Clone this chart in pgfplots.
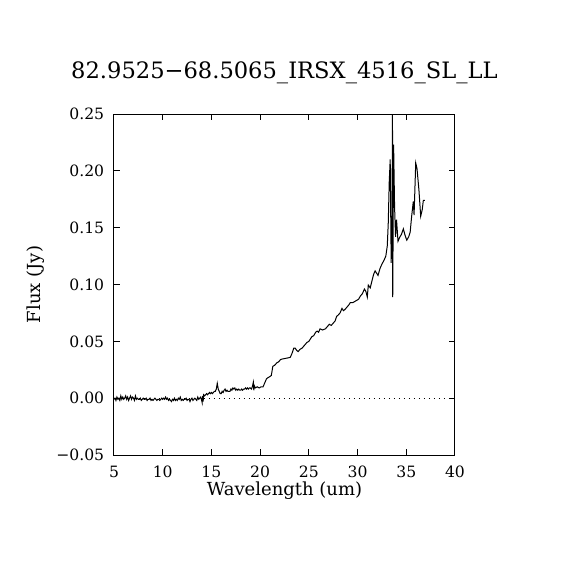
\documentclass[border=0pt]{standalone}
\usepackage{fontspec}
\setmainfont{DejaVu Serif}
\usepackage{pgfplots}
\pgfplotsset{compat=1.18}
\usepackage{pgfplotstable}
\pgfplotstableread{
x y
5.0 -0.001
5.1 0.000
5.2 -0.002
5.3 0.001
5.4 -0.001
5.5 0.000
5.6 -0.002
5.7 0.002
5.8 -0.001
5.9 0.001
6.0 -0.001
6.1 0.000
6.2 0.002
6.3 -0.001
6.4 0.001
6.5 -0.002
6.6 0.000
6.7 0.002
6.8 -0.001
6.9 0.001
7.0 0.000
7.1 -0.002
7.2 0.002
7.3 -0.001
7.4 0.000
7.5 -0.001
7.6 -0.001
7.7 0.000
7.8 -0.002
7.9 -0.001
8.0 0.000
8.1 -0.001
8.2 -0.001
8.3 0.000
8.4 -0.002
8.5 -0.001
8.6 -0.001
8.7 0.000
8.8 -0.002
8.9 -0.001
9.0 -0.002
9.1 -0.001
9.2 0.000
9.3 -0.001
9.4 -0.002
9.5 -0.001
9.6 -0.001
9.7 -0.002
9.8 -0.001
9.9 0.000
10.0 -0.001
10.1 0.000
10.2 -0.001
10.3 0.001
10.4 -0.001
10.5 0.000
10.6 -0.002
10.7 -0.001
10.8 -0.002
10.9 -0.003
11.0 -0.001
11.1 -0.002
11.2 0.000
11.3 -0.002
11.4 -0.001
11.5 -0.002
11.6 0.000
11.7 -0.001
11.8 0.001
11.9 -0.002
12.0 -0.001
12.1 -0.002
12.2 -0.001
12.3 -0.001
12.4 0.000
12.5 -0.002
12.6 -0.001
12.7 -0.001
12.8 -0.003
12.9 -0.001
13.0 0.000
13.1 -0.002
13.2 -0.001
13.3 0.000
13.4 -0.001
13.5 -0.002
13.6 0.001
13.7 -0.001
13.8 0.000
13.9 0.001
14.0 -0.002
14.05 -0.004
14.1 0.002
14.15 -0.003
14.2 0.003
14.3 0.002
14.4 0.003
14.5 0.004
14.6 0.003
14.7 0.004
14.8 0.005
14.9 0.004
15.0 0.005
15.1 0.004
15.2 0.005
15.3 0.006
15.4 0.006
15.5 0.008
15.6 0.013
15.7 0.008
15.8 0.006
15.9 0.004
16.0 0.004
16.1 0.006
16.2 0.005
16.3 0.007
16.4 0.008
16.5 0.006
16.6 0.007
16.7 0.006
16.8 0.006
16.9 0.006
17.0 0.008
17.1 0.007
17.2 0.009
17.3 0.008
17.4 0.009
17.5 0.007
17.6 0.008
17.7 0.007
17.8 0.008
17.9 0.007
18.0 0.007
18.1 0.008
18.2 0.007
18.3 0.008
18.4 0.008
18.5 0.009
18.6 0.008
18.7 0.009
18.8 0.008
18.9 0.009
19.0 0.009
19.1 0.008
19.2 0.010
19.3 0.014
19.35 0.007
19.4 0.011
19.5 0.009
19.7 0.010
19.9 0.009
20.1 0.010
20.3 0.010
20.5 0.014
20.65 0.017
20.8 0.018
21.0 0.019
21.15 0.020
21.3 0.028
21.5 0.029
21.7 0.031
21.9 0.032
22.1 0.034
22.3 0.0345
22.6 0.035
22.9 0.0355
23.1 0.036
23.3 0.040
23.45 0.044
23.6 0.044
23.75 0.042
23.9 0.041
24.1 0.043
24.3 0.044
24.6 0.047
24.8 0.049
25.0 0.050
25.3 0.054
25.5 0.055
25.7 0.058
25.85 0.059
26.0 0.058
26.15 0.061
26.4 0.060
26.7 0.061
26.9 0.063
27.1 0.065
27.3 0.064
27.5 0.066
27.7 0.068
27.85 0.072
28.0 0.073
28.2 0.075
28.4 0.079
28.55 0.077
28.7 0.078
28.9 0.080
29.1 0.082
29.25 0.084
29.5 0.084
29.7 0.085
29.9 0.086
30.1 0.087
30.3 0.090
30.5 0.092
30.7 0.096
30.85 0.094
31.0 0.089
31.1 0.0995
31.3 0.097
31.5 0.104
31.65 0.109
31.8 0.112
31.95 0.110
32.1 0.108
32.3 0.114
32.5 0.118
32.7 0.121
32.9 0.125
33.05 0.134
33.15 0.154
33.25 0.190
33.35 0.210
33.45 0.119
33.55 0.168
33.58 0.270
33.61 0.089
33.70 0.223
33.8 0.168
33.9 0.142
34.0 0.157
34.15 0.138
34.35 0.142
34.5 0.144
34.7 0.149
34.85 0.144
35.05 0.139
35.25 0.142
35.4 0.146
35.55 0.160
35.72 0.173
35.8 0.161
35.97 0.207
36.1 0.202
36.3 0.183
36.48 0.160
36.64 0.166
36.75 0.174
36.92 0.174
}\spec
\begin{document}
\begin{tikzpicture}
\useasboundingbox (-57pt,-57.5pt) rectangle (228pt,227.5pt);
\begin{axis}[
  at={(0,0)}, anchor=south west,
  scale only axis, width=170.5pt, height=170.5pt,
  xmin=5, xmax=40, ymin=-0.05, ymax=0.25,
  xtick={5,10,15,20,25,30,35,40},
  xticklabels={5,10,15,20,25,30,35,40},
  ytick={-0.05,0,0.05,0.1,0.15,0.2,0.25},
  yticklabels={−0.05,0.00,0.05,0.10,0.15,0.20,0.25},
  minor tick num=0,
  tick align=inside, major tick length=3pt,
  xtick pos=both, ytick pos=both,
  axis line style={line width=0.5pt},
  every tick/.style={black, line width=0.5pt},
  ticklabel style={font=\fontsize{7.8}{9}\selectfont},
  yticklabel style={xshift=-1.4pt},
  xticklabel style={yshift=-2pt},
  title={82.9525−68.5065\_IRSX\_4516\_SL\_LL},
  title style={at={([yshift=12pt]axis description cs:0.5,1)}, anchor=base, font=\fontsize{11.3}{13}\selectfont},
  xlabel={Wavelength (um)},
  xlabel style={at={([yshift=-20pt]axis description cs:0.5,0)}, anchor=base, font=\fontsize{9}{11}\selectfont},
  ylabel={Flux (Jy)},
  ylabel style={at={([xshift=-36.5pt]axis description cs:0,0.5)}, anchor=base, font=\fontsize{9}{11}\selectfont},
]
\addplot[black, line width=0.5pt, dotted, forget plot] coordinates {(5,0) (40,0)};
\addplot[black, line width=0.5pt, mark=none] table[x=x, y=y] {\spec};
\end{axis}
\end{tikzpicture}
\end{document}
